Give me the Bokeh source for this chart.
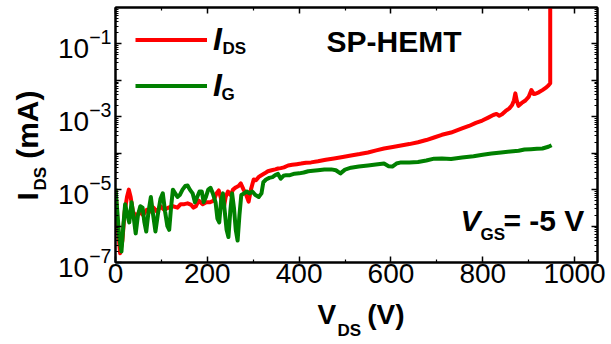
from bokeh.plotting import figure
from bokeh.models import (Range1d, LogAxis, LinearAxis, FixedTicker,
                          CustomJSTickFormatter, Label, Legend, LegendItem)
from bokeh.embed import file_html
from bokeh.resources import INLINE

FONT = "Liberation Sans"
NBSP = "\u00a0"

# ---- data (V in volts, currents in mA) ----
vds_ids = [0, 5, 10, 15, 20, 25, 29, 33, 38, 45, 52, 60, 68, 75, 83, 90, 98, 106, 115, 125,
           135, 142, 150, 157, 165, 170, 175, 181, 190, 198, 206, 214, 220, 225, 230, 236, 240,
           245, 251, 256, 262, 268, 273, 279, 284, 290, 295, 301, 306, 312, 317, 325, 332, 340,
           348, 354, 360, 367, 376, 385, 395, 404, 415, 426, 441, 458, 476, 495, 513, 532, 550,
           568, 585, 604, 622, 640, 659, 677, 694, 711, 731, 745, 755, 770, 785, 799, 812, 823,
           830, 836, 842, 850, 858, 864, 868, 871, 874, 878, 885, 893, 900, 906, 911, 915, 922,
           930, 937, 943, 947, 947]
ids = [1.0e-5, 1.0e-6, 1.8e-7, 4.0e-7, 2.5e-6, 6.3e-6, 1.0e-5, 6.3e-6, 2.5e-6, 1.8e-6,
       2.5e-6, 2.0e-6, 2.8e-6, 2.5e-6, 3.2e-6, 2.5e-6, 3.5e-6, 2.8e-6, 3.2e-6, 3.5e-6,
       3.2e-6, 4.0e-6, 4.0e-6, 4.2e-6, 3.8e-6, 3.2e-6, 3.5e-6, 5.0e-6, 4.0e-6, 4.5e-6,
       4.5e-6, 5.0e-6, 7.9e-6, 9.5e-6, 5.6e-6, 3.2e-6, 6.3e-6, 8.9e-6, 7.1e-6, 1.0e-5,
       1.15e-5, 1.26e-5, 1.48e-5, 1.0e-5, 7.6e-6, 4.7e-6, 1.0e-5, 1.9e-5, 1.8e-5, 2.24e-5,
       2.45e-5, 2.8e-5, 3.2e-5, 3.4e-5, 3.6e-5, 3.8e-5, 3.9e-5, 4.1e-5, 4.6e-5, 4.8e-5,
       5.0e-5, 5.2e-5, 5.5e-5, 5.6e-5, 6.0e-5, 6.6e-5, 7.2e-5, 7.9e-5, 8.7e-5, 9.5e-5,
       1.05e-4, 1.2e-4, 1.35e-4, 1.48e-4, 1.62e-4, 1.78e-4, 2.0e-4, 2.3e-4, 2.7e-4, 3.2e-4,
       3.7e-4, 4.3e-4, 4.8e-4, 5.6e-4, 6.8e-4, 7.9e-4, 9.5e-4, 1.12e-3, 1.2e-3, 1.07e-3,
       1.17e-3, 1.45e-3, 1.7e-3, 2.1e-3, 2.8e-3, 4.4e-3, 2.8e-3, 2.0e-3, 2.4e-3, 2.8e-3,
       3.5e-3, 5.4e-3, 4.2e-3, 4.3e-3, 4.7e-3, 5.4e-3, 6.2e-3, 7.2e-3, 8.3e-3, 1.0]

vds_ig = [0, 4, 8, 13, 17, 21, 26, 30, 35, 40, 44, 49, 54, 59, 63, 67, 72, 77, 82, 87, 92, 98,
          103, 108, 113, 117, 121, 125, 130, 135, 140, 146, 152, 157, 162, 168, 173, 178, 183,
          188, 192, 197, 202, 207, 212, 218, 222, 226, 230, 234, 238, 242, 246, 250, 254, 258,
          262, 266, 270, 274, 280, 286, 292, 298, 305, 312, 318, 322, 328, 335, 342, 348, 354,
          360, 366, 372, 380, 390, 400, 410, 420, 430, 441, 455, 470, 480, 490, 500, 513, 530,
          550, 567, 585, 595, 603, 612, 622, 640, 659, 677, 694, 711, 731, 755, 780, 800, 819,
          840, 860, 878, 891, 905, 918, 930, 943, 950]
ig = [1.07e-5, 2.5e-6, 5.0e-7, 2.0e-7, 1.0e-6, 4.0e-6, 2.0e-6, 1.26e-6, 4.5e-6, 1.6e-6,
      6.3e-7, 2.0e-6, 3.5e-6, 3.2e-6, 1.26e-6, 7.1e-7, 2.5e-6, 6.3e-6, 2.0e-6, 7.1e-7,
      2.0e-6, 5.6e-6, 7.9e-6, 2.5e-6, 1.0e-6, 7.9e-7, 3.2e-6, 1.0e-5, 7.9e-6, 6.3e-6,
      7.1e-6, 1.0e-5, 1.26e-5, 1.3e-5, 1.0e-5, 7.9e-6, 4.5e-6, 6.3e-6, 8.9e-6, 8.9e-6,
      4.5e-6, 6.3e-6, 1.0e-5, 1.12e-5, 7.9e-6, 4.5e-6, 1.6e-6, 1.26e-6, 5.0e-6, 7.9e-6,
      2.5e-6, 7.9e-7, 5.0e-7, 2.5e-6, 7.9e-6, 3.2e-6, 7.9e-7, 4.0e-7, 2.0e-6, 7.1e-6,
      7.9e-6, 8.9e-6, 7.9e-6, 8.9e-6, 7.1e-6, 6.3e-6, 7.9e-6, 1.6e-5, 1.9e-5, 2.1e-5,
      2.2e-5, 2.5e-5, 2.7e-5, 2.0e-5, 2.4e-5, 2.5e-5, 2.5e-5, 2.75e-5, 2.8e-5, 2.95e-5,
      3.2e-5, 3.3e-5, 3.4e-5, 3.55e-5, 3.6e-5, 3.4e-5, 2.8e-5, 3.55e-5, 4.0e-5, 4.3e-5,
      4.6e-5, 4.9e-5, 5.2e-5, 4.4e-5, 4.3e-5, 5.2e-5, 5.6e-5, 5.6e-5, 5.75e-5, 6.3e-5,
      7.1e-5, 7.2e-5, 6.9e-5, 7.6e-5, 8.3e-5, 9.1e-5, 9.8e-5, 1.05e-4, 1.12e-4, 1.17e-4,
      1.26e-4, 1.29e-4, 1.32e-4, 1.35e-4, 1.5e-4, 1.66e-4]

x_ticks_major = [0, 200, 400, 600, 800, 1000]
x_ticks_minor = [100, 300, 500, 700, 900]
y_ticks_major = [1e-7, 1e-6, 1e-5, 1e-4, 1e-3, 1e-2, 1e-1]
y_ticks_labeled = [1e-7, 1e-5, 1e-3, 1e-1]
y_ticks_minor = [m * d for d in y_ticks_major for m in range(2, 10)]

# ---- figure ----
p = figure(width=611, height=344, x_range=Range1d(0, 1050), y_range=Range1d(1e-7, 1),
           y_axis_type="log", output_backend="svg", toolbar_location=None,
           min_border_left=115, min_border_right=14, min_border_top=7, min_border_bottom=82,
           background_fill_color="white", border_fill_color="white")
p.xgrid.visible = False
p.ygrid.visible = False
p.outline_line_color = "black"
p.outline_line_width = 2
p.outline_line_alpha = 1


def style_axis(ax, font_size="28px"):
    ax.axis_line_color = "black"
    ax.axis_line_width = 2
    ax.major_tick_line_color = "black"
    ax.major_tick_line_width = 1.5
    ax.minor_tick_line_color = "black"
    ax.minor_tick_line_width = 1.2
    ax.major_tick_in = 6
    ax.major_tick_out = 0
    ax.minor_tick_in = 3
    ax.minor_tick_out = 0
    ax.major_label_text_font = FONT
    ax.major_label_text_font_size = font_size
    ax.major_label_text_color = "black"


xax = p.xaxis[0]
xax.ticker = FixedTicker(ticks=x_ticks_major, minor_ticks=x_ticks_minor)
style_axis(xax)
xax.major_label_standoff = 1

yax = p.yaxis[0]
yax.ticker = FixedTicker(ticks=y_ticks_major, minor_ticks=y_ticks_minor)
style_axis(yax)
yax.major_label_standoff = 4
yax.major_label_overrides = {t: "" for t in y_ticks_major if t not in y_ticks_labeled}

top = LinearAxis(ticker=FixedTicker(ticks=x_ticks_major, minor_ticks=x_ticks_minor),
                 formatter=CustomJSTickFormatter(code="return ''"))
style_axis(top, "1px")
top.major_label_standoff = 0
p.add_layout(top, "above")

right = LogAxis(ticker=FixedTicker(ticks=y_ticks_major, minor_ticks=y_ticks_minor),
                formatter=CustomJSTickFormatter(code="return ''"))
style_axis(right, "1px")
right.major_label_standoff = 0
p.add_layout(right, "right")

# ---- curves ----
r_ids = p.line(vds_ids, ids, line_color="#ff0000", line_width=4, line_join="round")
r_ig = p.line(vds_ig, ig, line_color="#008000", line_width=4, line_join="round")

legend = Legend(items=[LegendItem(label="I", renderers=[r_ids]),
                       LegendItem(label="I", renderers=[r_ig])],
                location=(20, 158), padding=0, margin=0, spacing=9,
                glyph_width=72, glyph_height=37, label_height=37, label_standoff=6,
                label_text_font=FONT, label_text_font_style="bold italic",
                label_text_font_size="32px", label_text_color="black",
                border_line_color=None, background_fill_alpha=0)
p.add_layout(legend)


def lab(text, x, y, size, style="bold", angle=0, units="screen", place="center"):
    p.add_layout(Label(text=text, x=x, y=y, x_units=units, y_units=units,
                       text_font=FONT, text_font_style=style, text_font_size=size,
                       text_color="black", angle=angle, angle_units="deg",
                       text_align="left", text_baseline="alphabetic"), place)


# legend subscripts
lab("DS", 107, 214, "17px")
lab("G", 106, 168, "17px")

# annotations inside the frame
lab("SP-HEMT", 211, 221, "30px")
lab("V", 345, 42, "30px", "bold italic")
lab("GS", 365, 28, "17px")
lab("= -5 V", 388, 42, "30px")

# x axis title (canvas units, placed in the bottom border)
lab("V" + NBSP * 4 + "(V)", 317, 314, "28px", units="canvas", place="below")
lab("DS", 337, 330, "17px", units="canvas", place="below")

# y axis title (rotated, canvas units, placed in the left border)
lab("I" + NBSP * 4 + "(mA)", 27, 200, "30px", angle=90, units="canvas", place="left")
lab("DS", 40, 190, "17px", angle=90, units="canvas", place="left")

open("out.html", "w").write(file_html(p, INLINE))
